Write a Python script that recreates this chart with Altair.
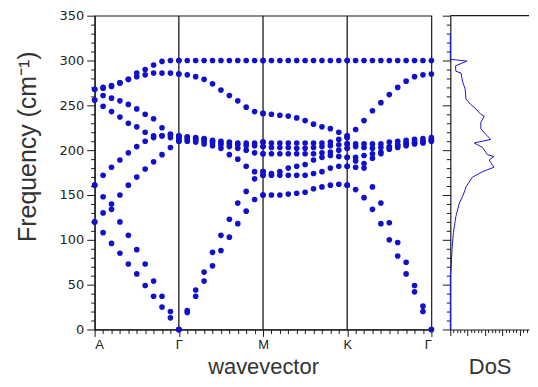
import altair as alt
import pandas as pd

# ---------------- data ----------------
point_labels = ["A", "Γ", "M", "K", "Γ"]

# branch frequencies (cm^-1) at 11 equally spaced points per path segment
seg_A_G = [
    [268, 270, 271, 275, 279, 286, 290, 295, 299, 300, 300],
    [268, 269, 272, 275, 279, 282, 284, 286, 286, 286, 285],
    [256, 261, 258, 255, 251, 246, 240, 235, 225, 218, 215],
    [256, 249, 243, 237, 230, 226, 220, 216, 216, 214, 212],
    [161, 172, 181, 189, 197, 204, 210, 214, 216, 217, 216],
    [120, 130, 140, 150, 161, 170, 179, 187, 195, 203, 210],
    [161, 148, 134, 120, 105, 89, 73, 54, 37, 20, 0],
    [120, 108, 96, 85, 73, 62, 49, 37, 25, 13, 0],
]
seg_G_M = [
    [300, 300, 300, 300, 300, 300, 300, 300, 300, 300, 300],
    [285, 284, 282, 279, 274, 267, 261, 255, 248, 243, 241],
    [216, 215, 214, 213, 211, 210, 209, 208, 208, 208, 209],
    [215, 214, 213, 212, 210, 208, 207, 206, 205, 205, 204],
    [213, 212, 211, 210, 208, 206, 204, 202, 200, 197, 196],
    [210, 210, 209, 207, 205, 202, 195, 190, 182, 176, 176],
    [0, 21, 44, 64, 86, 105, 123, 141, 154, 168, 172],
    [0, 19, 37, 54, 71, 88, 103, 118, 132, 145, 150],
]
seg_M_K = [
    [300, 300, 300, 300, 300, 300, 300, 300, 300, 300, 300],
    [241, 240, 239, 238, 236, 233, 229, 226, 224, 220, 216],
    [209, 208, 208, 208, 208, 208, 208, 208, 209, 212, 214],
    [204, 203, 203, 203, 202, 202, 203, 204, 205, 206, 207],
    [196, 196, 196, 196, 196, 196, 196, 197, 198, 200, 202],
    [176, 174, 176, 180, 182, 184, 189, 192, 194, 193, 192],
    [172, 172, 172, 172, 172, 172, 174, 176, 180, 182, 182],
    [150, 150, 150, 151, 152, 153, 157, 159, 161, 162, 161],
]
seg_K_G = [
    [300, 300, 300, 300, 300, 300, 300, 300, 300, 300, 300],
    [216, 223, 233, 244, 253, 262, 270, 277, 282, 284, 285],
    [214, 207, 207, 207, 207, 209, 210, 211, 212, 213, 214],
    [207, 204, 203, 202, 203, 204, 206, 208, 209, 210, 212],
    [202, 192, 194, 196, 196, 201, 203, 205, 207, 208, 210],
    [192, 188, 185, 191, 198, 203, 205, 207, 208, 209, 211],
    [182, 181, 180, 159, 141, 119, 97, 75, 49, 26, 0],
    [161, 156, 147, 134, 118, 100, 82, 62, 42, 20, 0],
]
segments = [seg_A_G, seg_G_M, seg_M_K, seg_K_G]

# density of states profile
dos_freq = [0, 60, 67, 89, 108, 126, 141, 148, 156, 159, 170, 176, 181, 189, 193, 195,
            203, 208, 212, 218, 224, 231, 238, 240, 246, 251, 257, 268, 277, 286, 288,
            294, 299.4, 301.3, 330]
dos_val = [0, 0, 0.2, 0.5, 0.9, 1.6, 2.6, 3.5, 4.3, 4.5, 6.4, 9.3, 12.6, 11.2, 12.6, 10.7,
           9.3, 6.9, 11.7, 10.1, 8.8, 8.8, 9.8, 8.8, 7.4, 5.9, 4.5, 4.3, 3.5, 3.1, 1.6,
           1.5, 4.8, 0, 0]
dos_top_freq = [350]

rows = []
for s, seg in enumerate(segments):
    for b, branch in enumerate(seg):
        for t, v in enumerate(branch):
            rows.append({"k": round(s + t / 10, 2), "freq": v, "branch": b})
bands = pd.DataFrame(rows)
vlines = pd.DataFrame({"k": [1, 2, 3]})
dos = pd.DataFrame({"f": dos_freq, "d": dos_val})
dos_top = pd.DataFrame({"f": dos_top_freq})

# ---------------- styling ----------------
BLUE = "#1111cc"
AX = "#1a1a1a"
TXT = "#333333"
TFONT = "Liberation Sans"
LFONT = "DejaVu Sans"
PLOT_H = 315

major_x = "abs(datum.value - round(datum.value)) < 0.001"
x_label_expr = f"{major_x} ? {point_labels}[round(datum.value)] : ''"
x_vals = [round(i * 0.1, 1) for i in range(41)]
y_vals = list(range(0, 351, 10))

xscale = alt.Scale(domain=[0, 4], nice=False, zero=False)
yscale = alt.Scale(domain=[0, 350], nice=False)

y_axis = alt.Axis(
    values=y_vals, labelExpr="datum.value % 50 === 0 ? datum.label : ''",
    labelOverlap=False, grid=False, domainColor=AX, domainWidth=1.2,
    tickColor=AX, tickWidth=1,
    tickSize={"condition": {"test": "datum.value % 50 === 0", "value": 8}, "value": 4},
    labelFont=LFONT, labelFontSize=13, labelColor="#222", labelPadding=3,
    title="Frequency (cm⁻¹)", titleFont=TFONT, titleFontSize=25, titleFontWeight="normal",
    titleColor=TXT, titleX=-59, titleY=131, titleAlign="center", titleBaseline="alphabetic",
    titleAngle=270,
)
x_axis = alt.Axis(
    values=x_vals, labelExpr=x_label_expr, labelOverlap=False, grid=False,
    domainColor=AX, domainWidth=1.2, tickColor=AX, tickWidth=1,
    tickSize={"condition": {"test": major_x, "value": 7}, "value": 4},
    labelFont=TFONT, labelFontSize=13, labelColor="#222", labelPadding=2,
    title="wavevector", titleFont=TFONT, titleFontSize=22, titleFontWeight="normal",
    titleColor=TXT, titleY=44, titleBaseline="alphabetic",
)

rules = alt.Chart(vlines).mark_rule(color=AX, strokeWidth=1.3).encode(
    x=alt.X("k:Q", scale=xscale, axis=x_axis)
)
pts = alt.Chart(bands).mark_circle(size=32, color=BLUE, opacity=1).encode(
    x=alt.X("k:Q", scale=xscale, axis=x_axis),
    y=alt.Y("freq:Q", scale=yscale, axis=y_axis),
)
main = alt.layer(rules, pts).properties(
    width=338, height=PLOT_H,
    view=alt.ViewBackground(stroke=AX, strokeWidth=1.2),
)

# DoS panel
dscale = alt.Scale(domain=[0, 22.7], nice=False, zero=True)
dos_x_axis = alt.Axis(
    values=list(range(0, 23)), labels=False, grid=False, domainColor=AX, domainWidth=1.2,
    tickColor=AX, tickWidth=1,
    tickSize={"condition": {"test": "datum.value % 5 === 0", "value": 6}, "value": 3},
    title="DoS", titleFont=TFONT, titleFontSize=22, titleFontWeight="normal",
    titleColor=TXT, titleY=44, titleBaseline="alphabetic",
)
dos_y_axis = alt.Axis(
    values=y_vals, labels=False, grid=False, domainColor=AX, domainWidth=1.2,
    tickColor=AX, tickWidth=1,
    tickSize={"condition": {"test": "datum.value % 50 === 0", "value": 8}, "value": 4},
    title=None,
)
dos_line = alt.Chart(dos).mark_line(color="#1a1ad0", strokeWidth=1).encode(
    x=alt.X("d:Q", scale=dscale, axis=dos_x_axis),
    y=alt.Y("f:Q", scale=yscale, axis=dos_y_axis),
    order="f:Q",
)
dos_border = alt.Chart(dos_top).mark_rule(color=AX, strokeWidth=1.2).encode(
    y=alt.Y("f:Q", scale=yscale, axis=dos_y_axis),
)
dos_panel = alt.layer(dos_line, dos_border).properties(width=79, height=PLOT_H)

chart = alt.hconcat(main, dos_panel, spacing=19, bounds="flush").properties(
    padding={"left": 7, "top": 0, "right": 0, "bottom": 0},
    background="white",
).configure_view(stroke=None)

chart.save("out.html", embed_options={"renderer": "svg", "actions": False})
